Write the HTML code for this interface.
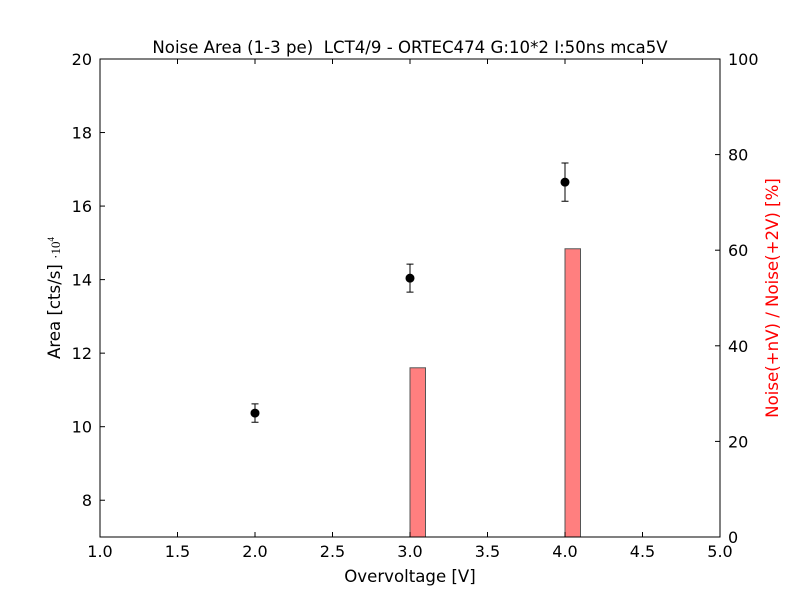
<!DOCTYPE html>
<html><head><meta charset="utf-8"><style>
body{margin:0;background:#fff}
svg{font-family:"DejaVu Sans",sans-serif}
text{white-space:pre}
</style></head><body>
<svg id="c" width="800" height="597" xmlns="http://www.w3.org/2000/svg"></svg>
<script>
const xs=[2,3,4];
const areas=[10.37,14.04,16.65];
const errs=[0.25,0.38,0.52];
const barXs=[3,4];
const barVals=[35.4,60.3];
const xTicks=[1.0,1.5,2.0,2.5,3.0,3.5,4.0,4.5,5.0];
const yTicks=[8,10,12,14,16,18,20];
const y2Ticks=[0,20,40,60,80,100];
const L=100,R=720,T=59,B=537;
const X=v=>L+(v-1)/4*(R-L);
const Y=v=>B-(v-7)/13*(B-T);
const Y2=v=>B-v/100*(B-T);
const svg=document.getElementById('c');
const NS='http://www.w3.org/2000/svg';
function mk(t,a,txt){const e=document.createElementNS(NS,t);for(const k in a)e.setAttribute(k,a[k]);if(txt!=null)e.textContent=txt;svg.appendChild(e);return e;}
barXs.forEach((b,i)=>{const e=mk('rect',{x:X(b),y:Y2(barVals[i]),width:X(b+0.1)-X(b),height:B-Y2(barVals[i]),fill:'#ff7f7f',stroke:'#555','stroke-width':1});

});
xs.forEach((x,i)=>{const cx=X(x);
const g=mk('path',{d:`M${cx},${Y(areas[i]+errs[i])}V${Y(areas[i]-errs[i])}M${cx-3.5},${Y(areas[i]+errs[i])}h7M${cx-3.5},${Y(areas[i]-errs[i])}h7`,stroke:'#000','stroke-width':1,fill:'none'});


const p=mk('circle',{cx:cx,cy:Y(areas[i]),r:4.5,fill:'#000'});

});
const f=mk('rect',{x:L,y:T,width:R-L,height:B-T,fill:'none',stroke:'#000','stroke-width':1});


xTicks.forEach(v=>{const x=X(v);mk('path',{d:`M${x},${B}v-5M${x},${T}v5`,stroke:'#000'});
const t=mk('text',{x:x,y:B+20,'text-anchor':'middle','font-size':16},v.toFixed(1));

});
yTicks.forEach(v=>{const y=Y(v);mk('path',{d:`M${L},${y}h5`,stroke:'#000'});
const t=mk('text',{x:L-8,y:y+6,'text-anchor':'end','font-size':16},v);

});
y2Ticks.forEach(v=>{const y=Y2(v);mk('path',{d:`M${R},${y}h-5`,stroke:'#000'});
const t=mk('text',{x:R+8,y:y+6,'font-size':16},v);

});
</script>
<svg width="800" height="597" style="position:absolute;left:0;top:0" xmlns="http://www.w3.org/2000/svg">
<text x="410" y="53" text-anchor="middle" font-size="16.6">Noise Area (1-3 pe)  LCT4/9 - ORTEC474 G:10*2 I:50ns mca5V</text>
<text x="410" y="582" text-anchor="middle" font-size="16.6">Overvoltage [V]</text>
<text transform="translate(60,298) rotate(-90)" text-anchor="middle" font-size="16.6">Area [cts/s] <tspan font-family="Liberation Serif" font-size="13">·10</tspan><tspan font-family="Liberation Serif" font-size="9" dy="-6">4</tspan></text>
<text transform="translate(778,298) rotate(-90)" text-anchor="middle" font-size="16.6" fill="#ff0000">Noise(+nV) / Noise(+2V) [%]</text>
</svg>
</body></html>
